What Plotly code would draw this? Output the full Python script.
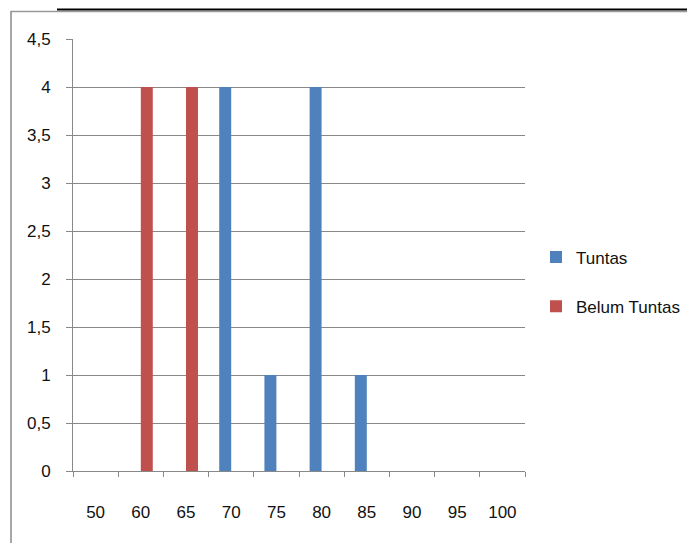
import plotly.graph_objects as go

# Score categories and the number of students in each group
categories = ["50", "60", "65", "70", "75", "80", "85", "90", "95", "100"]
tuntas = [0, 0, 0, 4, 1, 4, 1, 0, 0, 0]
belum_tuntas = [0, 4, 4, 0, 0, 0, 0, 0, 0, 0]

y_ticks = [0, 0.5, 1, 1.5, 2, 2.5, 3, 3.5, 4, 4.5]
y_tick_labels = ["0", "0,5", "1", "1,5", "2", "2,5", "3", "3,5", "4", "4,5"]

BLUE = "#4F81BD"
RED = "#C0504D"
GRID = "#888888"
FONT = "Liberation Sans Narrow, Liberation Sans, Arial, sans-serif"

W, H = 687, 543
L, R, T, B = 73, 525, 39, 471  # plot area edges in pixels


def px_x(x):
    return (x - L) / (R - L)


def px_y(y):
    return (B - y) / (B - T)


fig = go.Figure()
fig.add_trace(go.Bar(x=categories, y=tuntas, name="Tuntas", marker_color=BLUE,
                     marker_line_width=0, legendgroup="a"))
fig.add_trace(go.Bar(x=categories, y=belum_tuntas, name="Belum Tuntas", marker_color=RED,
                     marker_line_width=0, legendgroup="b"))

fig.update_layout(
    width=W, height=H,
    margin=dict(l=L, r=W - R, t=T, b=H - B, pad=0, autoexpand=False),
    paper_bgcolor="white", plot_bgcolor="white",
    barmode="group", bargap=0.47, bargroupgap=0,
    font=dict(family=FONT, size=17, color="#111111"),
    showlegend=True,
    legend=dict(x=px_x(536), y=px_y(282), xanchor="left", yanchor="middle",
                traceorder="grouped", tracegroupgap=24,
                font=dict(family=FONT, size=17, color="#111111"),
                bgcolor="rgba(0,0,0,0)"),
    xaxis=dict(type="category", showgrid=False, showline=True, linecolor=GRID, linewidth=1,
               ticks="outside", tickson="boundaries", ticklen=5, tickcolor=GRID,
               ticklabelstandoff=26, zeroline=False),
    yaxis=dict(range=[0, 4.5], tickvals=y_ticks, ticktext=y_tick_labels,
               showgrid=True, gridcolor=GRID, gridwidth=1,
               showline=True, linecolor=GRID, linewidth=1,
               ticks="outside", ticklen=6, tickcolor=GRID,
               ticklabelstandoff=12, zeroline=False),
    shapes=[
        # chart frame (gray) along the top and left
        dict(type="line", xref="paper", yref="paper", x0=px_x(11), x1=px_x(W + 5),
             y0=px_y(11.5), y1=px_y(11.5), line=dict(color="#9a9a9a", width=1.5)),
        dict(type="line", xref="paper", yref="paper", x0=px_x(11), x1=px_x(11),
             y0=px_y(11), y1=px_y(H + 5), line=dict(color="#8a8a8a", width=1.5)),
        # dark rule across the top
        dict(type="line", xref="paper", yref="paper", x0=px_x(57), x1=px_x(W + 5),
             y0=px_y(9.5), y1=px_y(9.5), line=dict(color="#000000", width=2)),
    ],
)

fig.write_html("out.html")
